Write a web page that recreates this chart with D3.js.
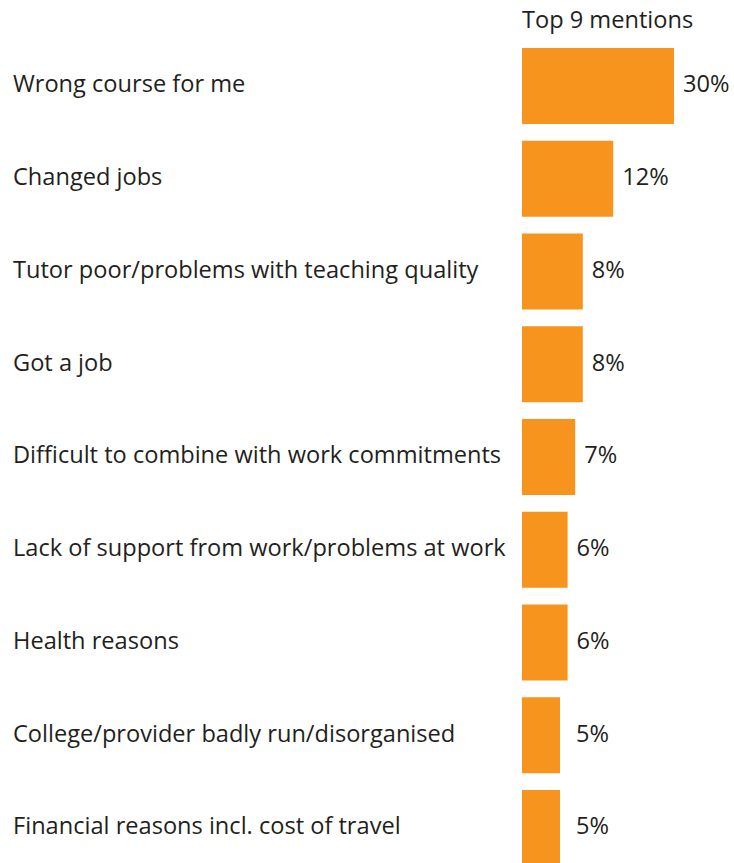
<!DOCTYPE html>
<html>
<head>
<meta charset="utf-8">
<script src="https://cdn.jsdelivr.net/npm/d3@7"></script>
<style>
  html, body { margin: 0; padding: 0; background: #ffffff; }
  svg { display: block; }
  text { font-family: "Open Sans", "Noto Sans", sans-serif; fill: #231f20; }
</style>
</head>
<body>
<svg id="chart" width="734" height="863"></svg>
<script>
// Reasons for leaving the course, top 9 mentions (% of respondents)
const reasons = [
  "Wrong course for me",
  "Changed jobs",
  "Tutor poor/problems with teaching quality",
  "Got a job",
  "Difficult to combine with work commitments",
  "Lack of support from work/problems at work",
  "Health reasons",
  "College/provider badly run/disorganised",
  "Financial reasons incl. cost of travel"
];
const shares = [30, 12, 8, 8, 7, 6, 6, 5, 5];
const valueLabels = ["30%", "12%", "8%", "8%", "7%", "6%", "6%", "5%", "5%"];
const title = "Top 9 mentions";

const W = 734, H = 863;
const svg = d3.select("#chart");

const barLeft = 522;
const fontSize = 23.6;

// Bars share one scale; the longest bar is capped at the panel's width.
const x = d3.scaleLinear()
  .domain([0, 20])
  .range([barLeft, 674])
  .clamp(true);

const y = d3.scaleBand()
  .domain(reasons)
  .range([48, 866])
  .paddingInner(0.1806)
  .paddingOuter(0);

const rows = reasons.map((r, i) => ({ reason: r, value: shares[i], label: valueLabels[i] }));

// Header above the bar column
svg.append("text")
  .attr("x", barLeft)
  .attr("y", 28)
  .attr("font-size", fontSize)
  .text(title);

const row = svg.selectAll("g.row")
  .data(rows)
  .join("g")
  .attr("class", "row");

row.append("rect")
  .attr("x", x(0))
  .attr("y", d => y(d.reason))
  .attr("width", d => x(d.value) - x(0))
  .attr("height", y.bandwidth())
  .attr("fill", "#f7941d");

row.append("text")
  .attr("x", 13)
  .attr("y", d => y(d.reason) + y.bandwidth() / 2)
  .attr("dy", "0.27em")
  .attr("font-size", fontSize)
  .text(d => d.reason);

row.append("text")
  .attr("x", d => Math.max(x(d.value) + 9, 576))
  .attr("y", d => y(d.reason) + y.bandwidth() / 2)
  .attr("dy", "0.27em")
  .attr("font-size", fontSize)
  .text(d => d.label);
</script>
</body>
</html>
